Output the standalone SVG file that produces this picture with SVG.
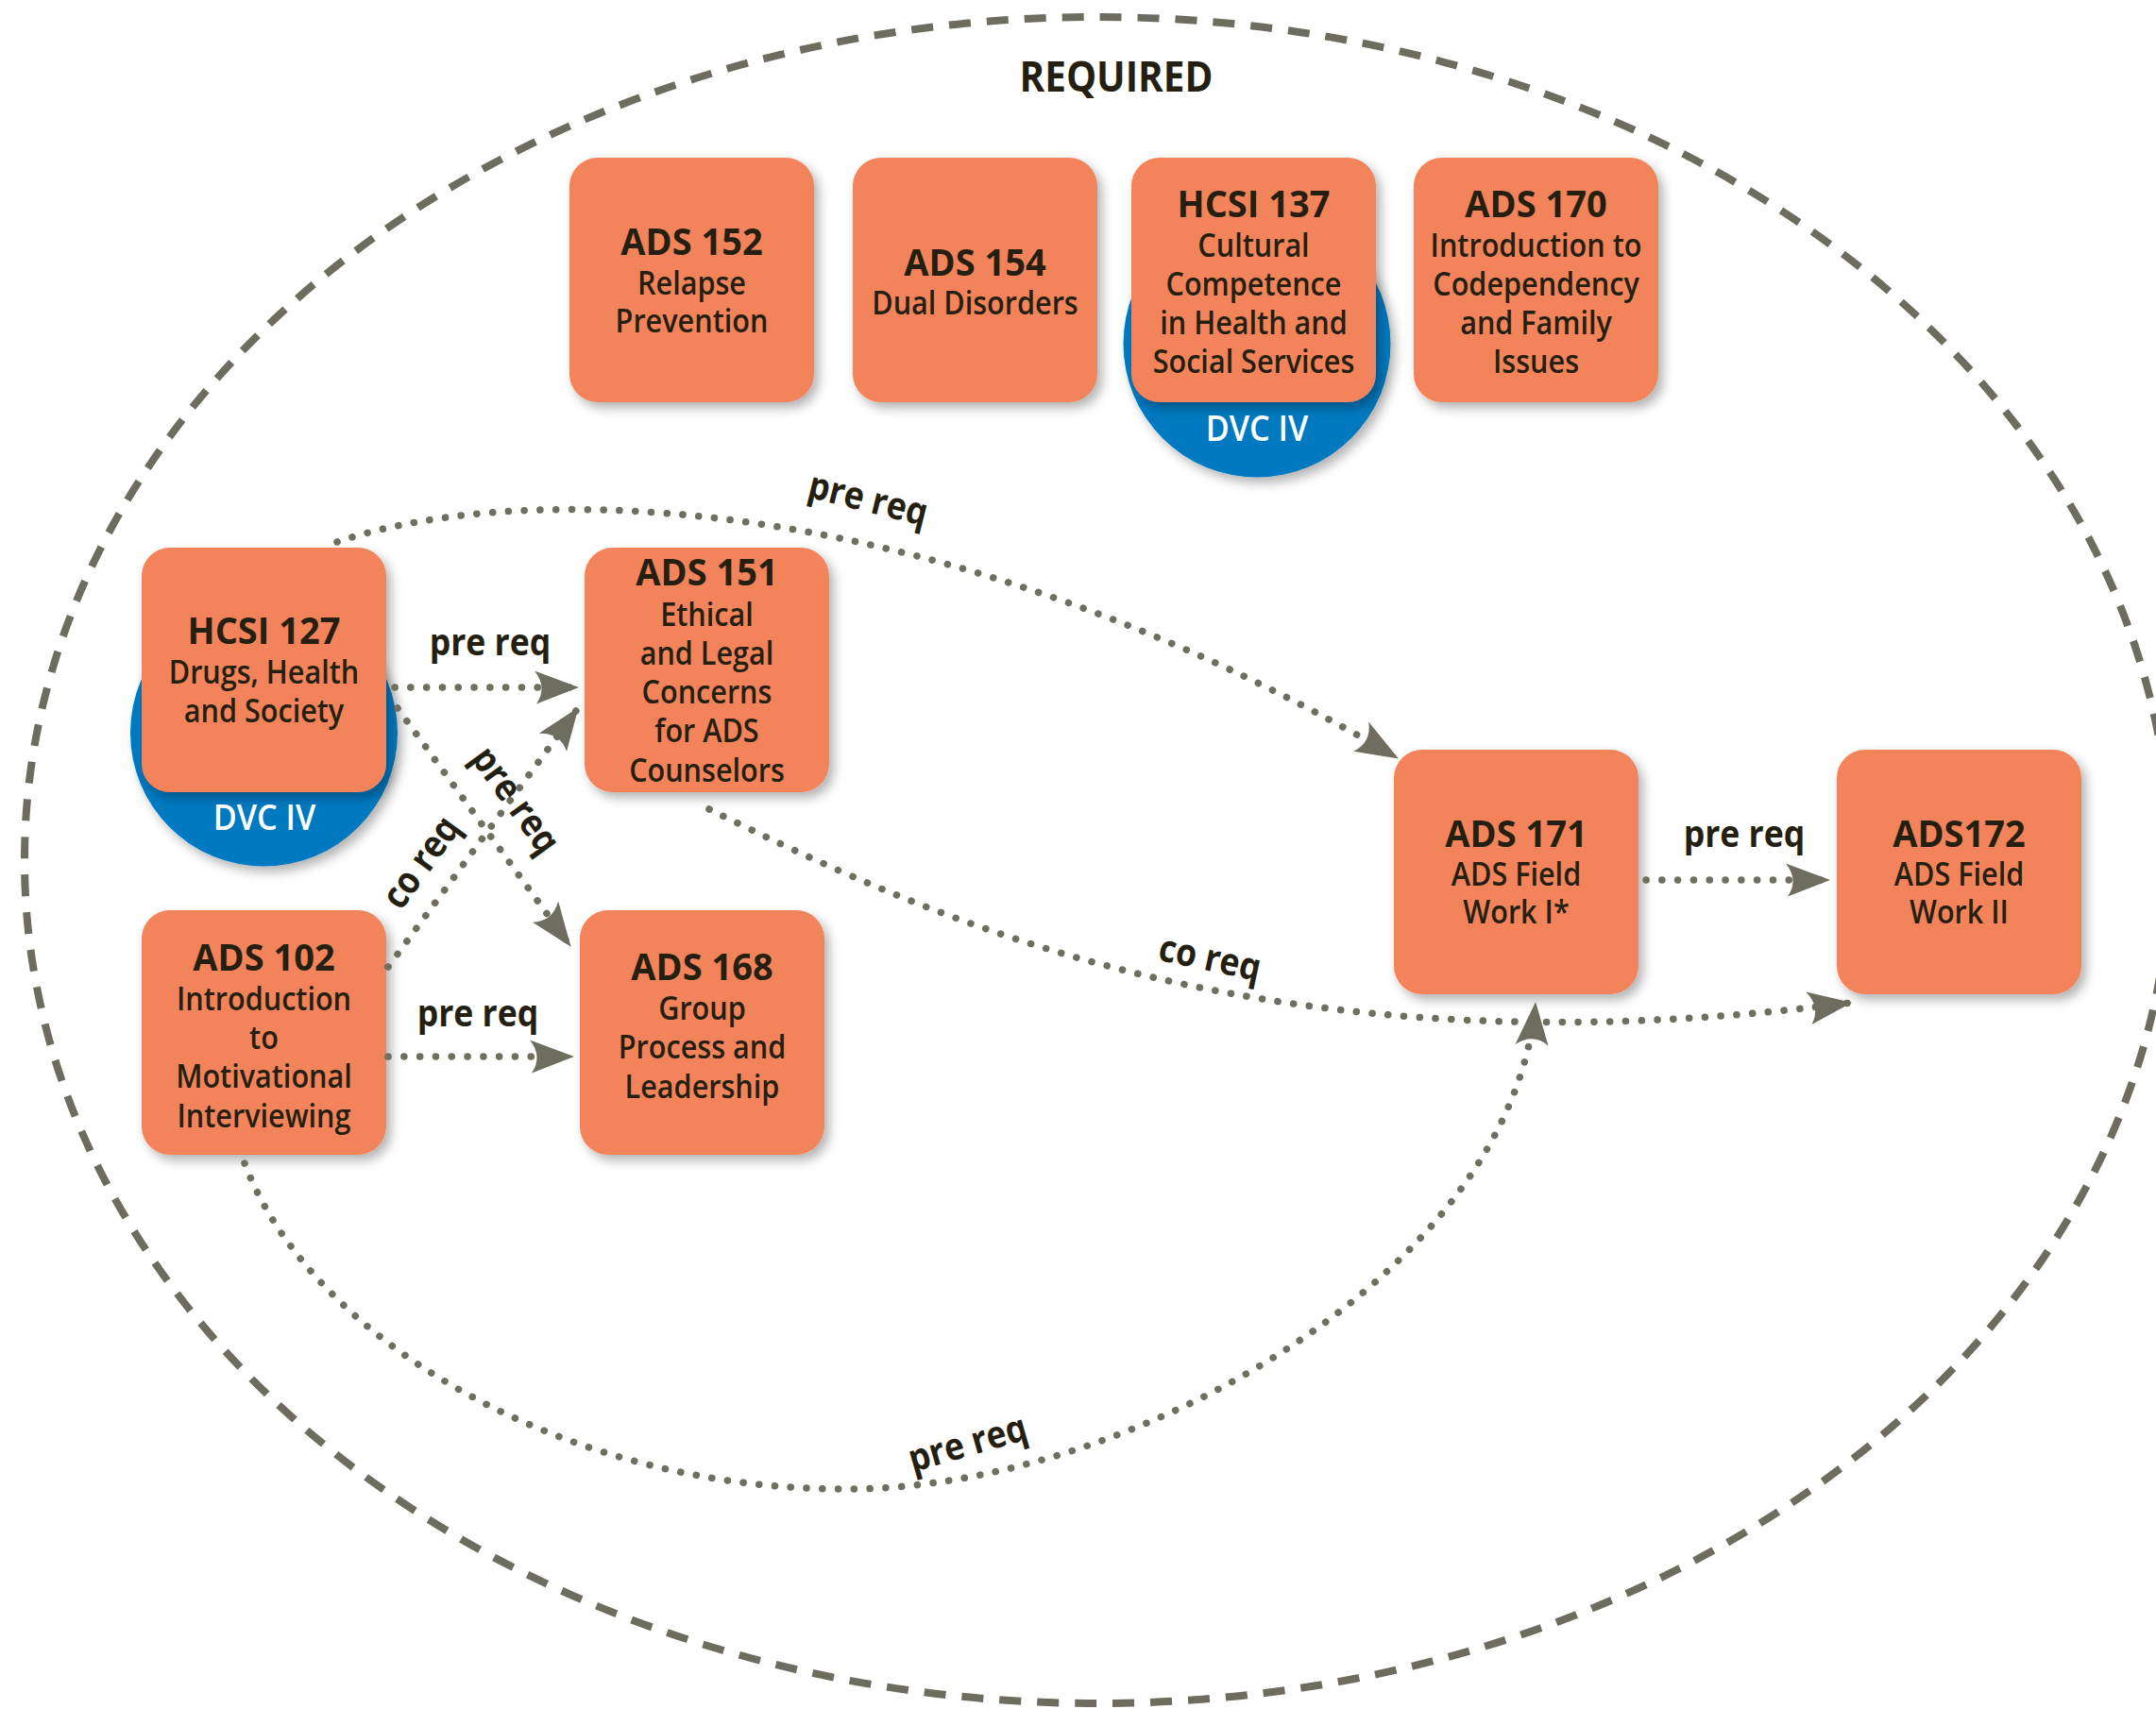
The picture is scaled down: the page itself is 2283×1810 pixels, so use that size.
<svg xmlns="http://www.w3.org/2000/svg" width="2283" height="1810" viewBox="0 0 2283 1810">
<style>
.box{fill:#F3835A;filter:url(#sh)}
.dvc{fill:#0079C0;filter:url(#sh)}
.t{font-family:"Open Sans","Liberation Sans",sans-serif;fill:#241F10;text-anchor:middle;transform-box:fill-box;transform-origin:center}
.h{font-size:40px;font-weight:700;transform:scaleX(0.95)}
.b{font-size:34px;font-weight:600;transform:scaleX(0.9)}
.w{fill:#FFFFFF;font-size:38px;font-weight:600;transform:scaleX(0.9)}
.lbl{font-size:40px;font-weight:700;transform:scaleX(0.89)}
.req{font-size:45px;font-weight:700;transform:scaleX(0.9)}
.con{fill:none;stroke:#6F6E60;stroke-width:7.5;stroke-linecap:round;stroke-dasharray:0.1 16.7;marker-end:url(#ah)}
</style>
<defs>
<filter id="sh" x="-20%" y="-20%" width="150%" height="150%">
<feDropShadow dx="5" dy="6" stdDeviation="6" flood-color="#000" flood-opacity="0.3"/>
</filter>
<marker id="ah" markerUnits="userSpaceOnUse" orient="auto" markerWidth="48" markerHeight="36" viewBox="0 0 48 36" refX="46" refY="17.5" overflow="visible">
<path d="M0,0 L47,17.5 L2,35 Q14,17.5 0,0 Z" fill="#6E6D5F"/>
</marker>
</defs>
<ellipse cx="1162" cy="911" rx="1136" ry="893" fill="none" stroke="#6E6C5E" stroke-width="8" stroke-dasharray="23 17"/>
<text class="t req" x="1182" y="97">REQUIRED</text>

<g id="n152">
<rect class="box" x="603" y="167" width="259" height="259" rx="30"/>
<text class="t h" x="732.5" y="270">ADS 152</text>
<text class="t b" x="732.5" y="312">Relapse</text>
<text class="t b" x="732.5" y="352">Prevention</text>
</g>
<g id="n154">
<rect class="box" x="903" y="167" width="259" height="259" rx="30"/>
<text class="t h" x="1032.5" y="292">ADS 154</text>
<text class="t b" x="1032.5" y="333">Dual Disorders</text>
</g>
<g id="n137">
<circle class="dvc" cx="1331" cy="364" r="141.5"/>
<text class="t w" x="1331" y="467">DVC IV</text>
<rect class="box" x="1198" y="167" width="259" height="259" rx="30"/>
<text class="t h" x="1327.5" y="230">HCSI 137</text>
<text class="t b" x="1327.5" y="272">Cultural</text>
<text class="t b" x="1327.5" y="313">Competence</text>
<text class="t b" x="1327.5" y="354">in Health and</text>
<text class="t b" x="1327.5" y="395">Social Services</text>
</g>
<g id="n170">
<rect class="box" x="1497" y="167" width="259" height="259" rx="30"/>
<text class="t h" x="1626.5" y="230">ADS 170</text>
<text class="t b" x="1626.5" y="272">Introduction to</text>
<text class="t b" x="1626.5" y="313">Codependency</text>
<text class="t b" x="1626.5" y="354">and Family</text>
<text class="t b" x="1626.5" y="395">Issues</text>
</g>
<g id="n127">
<circle class="dvc" cx="279.5" cy="776" r="141.5"/>
<text class="t w" x="280" y="879">DVC IV</text>
<rect class="box" x="150" y="580" width="259" height="259" rx="30"/>
<text class="t h" x="279.5" y="682">HCSI 127</text>
<text class="t b" x="279.5" y="724">Drugs, Health</text>
<text class="t b" x="279.5" y="765">and Society</text>
</g>
<g id="n151">
<rect class="box" x="619" y="580" width="259" height="259" rx="30"/>
<text class="t h" x="748.5" y="620">ADS 151</text>
<text class="t b" x="748.5" y="663">Ethical</text>
<text class="t b" x="748.5" y="704">and Legal</text>
<text class="t b" x="748.5" y="745">Concerns</text>
<text class="t b" x="748.5" y="786">for ADS</text>
<text class="t b" x="748.5" y="828">Counselors</text>
</g>
<g id="n102">
<rect class="box" x="150" y="964" width="259" height="259" rx="30"/>
<text class="t h" x="279.5" y="1028">ADS 102</text>
<text class="t b" x="279.5" y="1070">Introduction</text>
<text class="t b" x="279.5" y="1111">to</text>
<text class="t b" x="279.5" y="1152">Motivational</text>
<text class="t b" x="279.5" y="1194">Interviewing</text>
</g>
<g id="n168">
<rect class="box" x="614" y="964" width="259" height="259" rx="30"/>
<text class="t h" x="743.5" y="1038">ADS 168</text>
<text class="t b" x="743.5" y="1080">Group</text>
<text class="t b" x="743.5" y="1121">Process and</text>
<text class="t b" x="743.5" y="1163">Leadership</text>
</g>
<g id="n171">
<rect class="box" x="1476" y="794" width="259" height="259" rx="30"/>
<text class="t h" x="1605.5" y="897">ADS 171</text>
<text class="t b" x="1605.5" y="938">ADS Field</text>
<text class="t b" x="1605.5" y="978">Work I*</text>
</g>
<g id="n172">
<rect class="box" x="1945" y="794" width="259" height="259" rx="30"/>
<text class="t h" x="2074.5" y="897">ADS172</text>
<text class="t b" x="2074.5" y="938">ADS Field</text>
<text class="t b" x="2074.5" y="978">Work II</text>
</g>

<g id="connectors">
<path class="con" d="M418,728 L612,728"/>
<path class="con" d="M411,1119 L607,1119"/>
<path class="con" d="M421,750 L604,1002"/>
<path class="con" d="M411,1024 L612,750"/>
<path class="con" d="M357,574 C560,505 1000,520 1480,803"/>
<path class="con" d="M751,857 C1000,980 1350,1140 1960,1062"/>
<path class="con" d="M259,1232 C330,1420 600,1580 903,1577 C1200,1574 1600,1350 1626,1062"/>
<path class="con" d="M1743,932 L1937,932"/>
<text class="t lbl" x="519" y="694">pre req</text>
<text class="t lbl" x="506" y="1087">pre req</text>
<g transform="translate(545,848) rotate(54)"><text class="t lbl" x="0" y="12">pre req</text></g>
<g transform="translate(447,914) rotate(-54)"><text class="t lbl" x="0" y="12">co req</text></g>
<g transform="translate(919,530) rotate(14)"><text class="t lbl" x="0" y="12">pre req</text></g>
<g transform="translate(1281,1016) rotate(12)"><text class="t lbl" x="0" y="12">co req</text></g>
<g transform="translate(1025,1530) rotate(-16)"><text class="t lbl" x="0" y="12">pre req</text></g>
<text class="t lbl" x="1847" y="897">pre req</text>
</g>
</svg>
